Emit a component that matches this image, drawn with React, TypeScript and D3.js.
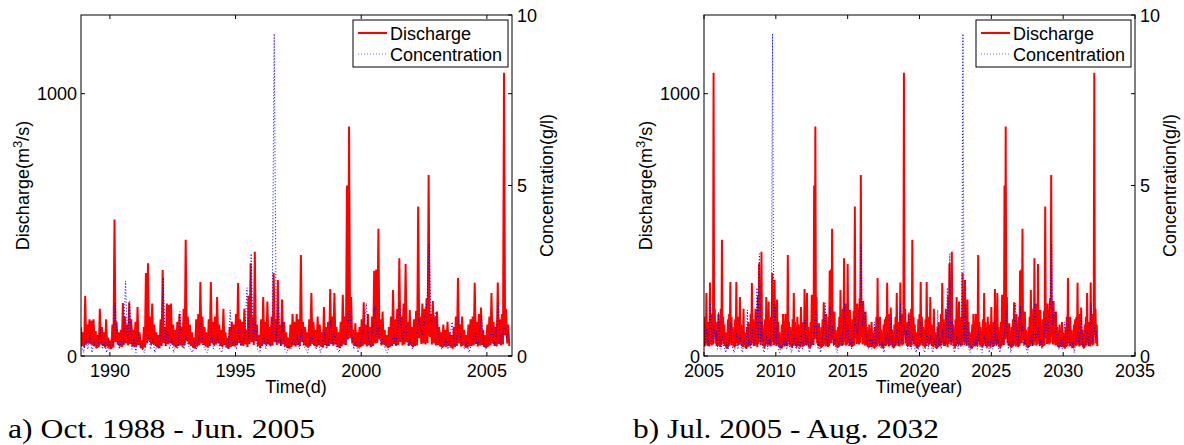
import React from 'react';
import * as d3 from 'd3';

// ---------- DATA ----------
// Left panel (Oct. 1988 - 2005), monthly peak / low discharge (m3/s) and concentration (g/l)
const leftStart = 1988.85;
const leftQHigh = [
  110,90,229,120,140,135,140,95,80,180,
  110,90,140,70,60,120,520,130,90,100,
  202,150,120,205,140,100,130,187,90,60,
  110,316,354,150,200,120,90,80,140,328,
  110,200,195,200,120,100,130,160,110,180,
  443,150,120,90,70,140,160,282,150,110,
  90,140,282,130,150,225,120,100,180,90,
  70,110,130,120,160,278,140,130,180,100,
  230,354,150,397,120,80,140,225,130,208,
  110,150,316,140,290,120,215,130,90,70,
  120,160,130,160,140,385,130,110,90,140,
  240,130,100,150,120,90,187,110,130,255,
  150,240,110,90,130,233,150,650,875,225,
  100,125,90,110,140,205,120,160,110,150,
  325,330,485,140,170,100,80,110,150,252,
  140,180,373,150,200,351,130,175,110,140,
  172,570,150,200,180,220,690,160,210,150,
  170,110,90,120,100,130,90,80,110,150,
  297,120,150,100,80,120,140,150,279,130,
  160,185,100,80,120,150,240,130,110,280,
  140,160,1080,180,120,
];
const leftQLow = [
  38,33,43,48,46,40,36,30,33,43,
  38,32,36,28,26,33,53,43,36,34,
  43,48,40,46,38,33,36,42,30,26,
  33,48,58,43,46,38,32,30,38,50,
  38,46,48,44,36,32,38,40,34,42,
  56,44,38,32,28,36,40,48,42,36,
  32,38,50,40,44,48,38,34,42,32,
  28,34,38,36,42,50,40,38,44,34,
  46,53,42,56,38,30,38,46,40,44,
  36,40,53,42,48,38,44,36,30,28,
  34,40,36,42,38,53,40,36,32,38,
  46,38,34,40,36,32,42,36,38,46,
  40,44,34,30,36,44,42,63,68,48,
  38,36,32,34,38,44,36,40,34,38,
  48,50,63,42,44,36,30,34,38,46,
  38,42,53,40,44,52,38,42,34,38,
  40,68,46,48,44,50,73,44,48,40,
  42,36,32,36,34,38,32,28,34,38,
  48,36,40,34,30,36,38,40,46,36,
  40,42,34,30,36,40,48,38,36,46,
  40,44,78,48,38,
];
const leftConc = [
  0.3,0.1,0.5,0.2,0.6,0.1,0.4,0.2,0.3,0.85,
  0.2,0.4,0.1,0.5,0.2,0.3,1.55,0.6,0.2,0.5,
  0.3,2.2,0.4,1.6,0.2,0.5,0.1,0.7,0.3,0.2,
  0.1,0.4,0.6,0.2,0.5,0.1,0.3,0.2,0.6,2.3,
  0.3,0.8,0.2,0.5,0.1,0.3,0.2,1.3,0.4,0.2,
  0.6,0.3,0.2,0.1,0.4,0.2,0.5,1.0,0.3,0.2,
  0.1,0.3,0.7,0.2,0.4,0.6,0.2,0.1,0.5,0.3,
  0.2,1.35,0.3,0.5,0.2,0.8,0.3,0.4,0.6,2.0,
  0.5,3.0,0.4,1.0,0.2,0.1,0.3,0.6,0.2,0.5,
  0.3,0.7,9.45,0.4,1.5,0.3,1.0,0.2,0.1,0.3,
  0.2,0.5,0.3,0.6,0.2,0.8,0.3,0.2,0.1,0.4,
  0.6,0.3,0.2,0.5,0.1,0.3,0.7,0.2,0.4,1.05,
  0.3,0.6,0.2,0.1,0.4,0.5,0.3,0.8,1.35,0.6,
  0.2,0.4,0.1,0.3,0.6,0.9,1.55,0.5,0.3,0.7,
  1.45,0.6,0.9,0.3,0.5,0.2,0.1,0.3,0.4,0.6,
  0.3,0.8,1.55,0.5,0.7,0.9,0.3,0.5,0.2,0.4,
  0.6,1.1,0.8,0.6,1.2,1.6,3.3,0.9,1.1,1.3,
  0.7,0.4,0.2,0.3,0.5,0.2,0.6,1.0,0.3,0.4,
  1.1,0.5,0.3,0.2,0.4,0.1,0.3,0.5,0.7,0.3,
  0.6,1.2,0.4,0.2,0.3,0.5,0.8,0.3,0.6,1.55,
  0.4,0.6,0.9,0.5,0.75,
];

// Right panel (2005 - Aug. 2032), monthly peak / low discharge and concentration
const rightStart = 2005.0;
const rightQHigh = [
  120,150,240,130,110,280,140,160,1080,180,120,
  130,160,110,180,
  443,150,120,90,70,140,160,282,150,110,
  90,140,282,130,150,225,120,100,180,90,
  70,110,130,120,160,278,140,130,180,100,
  230,354,150,397,120,80,140,225,130,208,
  110,150,316,140,290,120,215,130,90,70,
  120,160,130,160,140,385,130,110,90,140,
  240,130,100,150,120,90,187,110,130,255,
  150,240,110,90,130,233,150,650,875,225,
  100,125,90,110,140,205,120,160,110,150,
  325,330,485,140,170,100,80,110,150,252,
  140,180,373,150,200,351,130,175,110,140,
  172,570,150,200,180,220,690,160,210,150,
  170,110,90,120,100,130,90,80,110,150,
  297,120,150,100,80,120,140,150,279,130,
  160,185,100,80,120,150,240,130,110,280,
  140,160,1080,180,120,
  130,160,110,180,
  443,150,120,90,70,140,160,282,150,110,
  90,140,282,130,150,225,120,100,180,90,
  70,110,130,120,160,278,140,130,180,100,
  230,354,150,397,120,80,140,225,130,208,
  110,150,316,140,290,120,215,130,90,70,
  120,160,130,160,140,385,130,110,90,140,
  240,130,100,150,120,90,187,110,130,255,
  150,240,110,90,130,233,150,650,875,225,
  100,125,90,110,140,205,120,160,110,150,
  325,330,485,140,170,100,80,110,150,252,
  140,180,373,150,200,351,130,175,110,140,
  172,570,150,200,180,220,690,160,210,150,
  170,110,90,120,100,130,90,80,110,150,
  297,120,150,100,80,120,140,150,279,130,
  160,185,100,80,120,150,240,130,110,280,
  140,160,1080,180,120,
];
const rightQLow = [
  36,40,48,38,36,46,40,44,78,48,38,
  38,40,34,42,
  56,44,38,32,28,36,40,48,42,36,
  32,38,50,40,44,48,38,34,42,32,
  28,34,38,36,42,50,40,38,44,34,
  46,53,42,56,38,30,38,46,40,44,
  36,40,53,42,48,38,44,36,30,28,
  34,40,36,42,38,53,40,36,32,38,
  46,38,34,40,36,32,42,36,38,46,
  40,44,34,30,36,44,42,63,68,48,
  38,36,32,34,38,44,36,40,34,38,
  48,50,63,42,44,36,30,34,38,46,
  38,42,53,40,44,52,38,42,34,38,
  40,68,46,48,44,50,73,44,48,40,
  42,36,32,36,34,38,32,28,34,38,
  48,36,40,34,30,36,38,40,46,36,
  40,42,34,30,36,40,48,38,36,46,
  40,44,78,48,38,
  38,40,34,42,
  56,44,38,32,28,36,40,48,42,36,
  32,38,50,40,44,48,38,34,42,32,
  28,34,38,36,42,50,40,38,44,34,
  46,53,42,56,38,30,38,46,40,44,
  36,40,53,42,48,38,44,36,30,28,
  34,40,36,42,38,53,40,36,32,38,
  46,38,34,40,36,32,42,36,38,46,
  40,44,34,30,36,44,42,63,68,48,
  38,36,32,34,38,44,36,40,34,38,
  48,50,63,42,44,36,30,34,38,46,
  38,42,53,40,44,52,38,42,34,38,
  40,68,46,48,44,50,73,44,48,40,
  42,36,32,36,34,38,32,28,34,38,
  48,36,40,34,30,36,38,40,46,36,
  40,42,34,30,36,40,48,38,36,46,
  40,44,78,48,38,
];
const rightConc = [
  0.3,0.5,0.8,0.3,0.6,1.55,0.4,0.6,0.9,0.5,0.75,
  0.2,1.3,0.4,0.2,
  0.6,0.3,0.2,0.1,0.4,0.2,0.5,1.0,0.3,0.2,
  0.1,0.3,0.7,0.2,0.4,0.6,0.2,0.1,0.5,0.3,
  0.2,1.35,0.3,0.5,0.2,0.8,0.3,0.4,0.6,2.0,
  0.5,3.0,0.4,1.0,0.2,0.1,0.3,0.6,0.2,0.5,
  0.3,0.7,9.45,0.4,1.5,0.3,1.0,0.2,0.1,0.3,
  0.2,0.5,0.3,0.6,0.2,0.8,0.3,0.2,0.1,0.4,
  0.6,0.3,0.2,0.5,0.1,0.3,0.7,0.2,0.4,1.05,
  0.3,0.6,0.2,0.1,0.4,0.5,0.3,0.8,1.35,0.6,
  0.2,0.4,0.1,0.3,0.6,0.9,1.55,0.5,0.3,0.7,
  1.45,0.6,0.9,0.3,0.5,0.2,0.1,0.3,0.4,0.6,
  0.3,0.8,1.55,0.5,0.7,0.9,0.3,0.5,0.2,0.4,
  0.6,1.1,0.8,0.6,1.2,1.6,3.3,0.9,1.1,1.3,
  0.7,0.4,0.2,0.3,0.5,0.2,0.6,1.0,0.3,0.4,
  1.1,0.5,0.3,0.2,0.4,0.1,0.3,0.5,0.7,0.3,
  0.6,1.2,0.4,0.2,0.3,0.5,0.8,0.3,0.6,1.55,
  0.4,0.6,0.9,0.5,0.75,
  0.2,1.3,0.4,0.2,
  0.6,0.3,0.2,0.1,0.4,0.2,0.5,1.0,0.3,0.2,
  0.1,0.3,0.7,0.2,0.4,0.6,0.2,0.1,0.5,0.3,
  0.2,1.35,0.3,0.5,0.2,0.8,0.3,0.4,0.6,2.0,
  0.5,3.0,0.4,1.0,0.2,0.1,0.3,0.6,0.2,0.5,
  0.3,0.7,9.45,0.4,1.5,0.3,1.0,0.2,0.1,0.3,
  0.2,0.5,0.3,0.6,0.2,0.8,0.3,0.2,0.1,0.4,
  0.6,0.3,0.2,0.5,0.1,0.3,0.7,0.2,0.4,1.05,
  0.3,0.6,0.2,0.1,0.4,0.5,0.3,0.8,1.35,0.6,
  0.2,0.4,0.1,0.3,0.6,0.9,1.55,0.5,0.3,0.7,
  1.45,0.6,0.9,0.3,0.5,0.2,0.1,0.3,0.4,0.6,
  0.3,0.8,1.55,0.5,0.7,0.9,0.3,0.5,0.2,0.4,
  0.6,1.1,0.8,0.6,1.2,1.6,3.3,0.9,1.1,1.3,
  0.7,0.4,0.2,0.3,0.5,0.2,0.6,1.0,0.3,0.4,
  1.1,0.5,0.3,0.2,0.4,0.1,0.3,0.5,0.7,0.3,
  0.6,1.2,0.4,0.2,0.3,0.5,0.8,0.3,0.6,1.55,
  0.4,0.6,0.9,0.5,0.75,
];

const leftXTicks = [1990, 1995, 2000, 2005];
const rightXTicks = [2005, 2010, 2015, 2020, 2025, 2030, 2035];
const qTicks = [0, 1000];
const cTicks = [0, 5, 10];
const qDomain = [0, 1300];
const cDomain = [0, 10];
const legendLabels = ['Discharge', 'Concentration'];

// ---------- LAYOUT ----------
const W = 1184, H = 445;
const TOP = 15, BOTTOM = 356;
const FONT = '"Liberation Sans", Arial, Helvetica, sans-serif';
const SERIF = '"Liberation Serif", "Times New Roman", serif';
const RED = '#ff0000';
const BLUE = '#0000ff';

type PanelCfg = {
  id: string;
  x0: number; x1: number;
  xDomain: [number, number];
  xTicks: number[];
  start: number;
  qHigh: number[]; qLow: number[]; conc: number[];
  xLabel: string; xLabelX: number;
  caption: string; captionX: number; captionLen: number;
};

const panels: PanelCfg[] = [
  {
    id: 'a', x0: 81, x1: 512, xDomain: [1988.85, 2006.0], xTicks: leftXTicks,
    start: leftStart, qHigh: leftQHigh, qLow: leftQLow, conc: leftConc,
    xLabel: 'Time(d)', xLabelX: 296,
    caption: 'a) Oct. 1988 - Jun. 2005', captionX: 8, captionLen: 307,
  },
  {
    id: 'b', x0: 704, x1: 1135, xDomain: [2005, 2035], xTicks: rightXTicks,
    start: rightStart, qHigh: rightQHigh, qLow: rightQLow, conc: rightConc,
    xLabel: 'Time(year)', xLabelX: 919,
    caption: 'b) Jul. 2005 - Aug. 2032', captionX: 633, captionLen: 306,
  },
];

function Panel({ p }: { p: PanelCfg }) {
  const xs = d3.scaleLinear().domain(p.xDomain).range([p.x0, p.x1]);
  const yq = d3.scaleLinear().domain(qDomain).range([BOTTOM, TOP]);
  const yc = d3.scaleLinear().domain(cDomain).range([BOTTOM, TOP]);

  const qPts: [number, number][] = p.qHigh.flatMap((h, k) => [
    [p.start + k / 12, h] as [number, number],
    [p.start + k / 12 + 1 / 24, p.qLow[k]] as [number, number],
  ]);
  const cPts: [number, number][] = p.conc.map((c, k) => [p.start + k / 12 + 1 / 48, c]);

  const qLine = d3.line<[number, number]>().x(d => xs(d[0])).y(d => yq(d[1]));
  const cLine = d3.line<[number, number]>().x(d => xs(d[0])).y(d => yc(d[1]));

  const tl = 4;
  const lgX = p.x1 - 159, lgY = 20, lgW = 155, lgH = 47;
  const midY = (TOP + BOTTOM) / 2;

  return (
    <g>
      <defs>
        <clipPath id={`clip-${p.id}`}>
          <rect x={p.x0} y={TOP} width={p.x1 - p.x0} height={BOTTOM - TOP} />
        </clipPath>
      </defs>
      <g clipPath={`url(#clip-${p.id})`}>
        <path d={qLine(qPts) || ''} fill="none" stroke={RED} strokeWidth={2} strokeLinejoin="miter" />
        <path d={cLine(cPts) || ''} fill="none" stroke={BLUE} strokeWidth={1} strokeDasharray="1,2" />
      </g>
      {/* box */}
      <rect x={p.x0} y={TOP} width={p.x1 - p.x0} height={BOTTOM - TOP} fill="none" stroke="#000" strokeWidth={1} />
      {/* x ticks */}
      {p.xTicks.map(t => (
        <g key={`xt${t}`}>
          <line x1={xs(t)} x2={xs(t)} y1={BOTTOM} y2={BOTTOM - tl} stroke="#000" />
          <line x1={xs(t)} x2={xs(t)} y1={TOP} y2={TOP + tl} stroke="#000" />
          <text x={xs(t)} y={377} textAnchor="middle" fontFamily={FONT} fontSize={18} fill="#000">{t}</text>
        </g>
      ))}
      {/* left y ticks (discharge) */}
      {qTicks.map(t => (
        <g key={`qt${t}`}>
          <line x1={p.x0} x2={p.x0 + tl} y1={yq(t)} y2={yq(t)} stroke="#000" />
          <line x1={p.x1} x2={p.x1 - tl} y1={yq(t)} y2={yq(t)} stroke="#000" />
          <text x={p.x0 - 4} y={yq(t) + 6.5} textAnchor="end" fontFamily={FONT} fontSize={18} fill="#000">{t}</text>
        </g>
      ))}
      {/* right y ticks (concentration) */}
      {cTicks.map(t => (
        <g key={`ct${t}`}>
          <line x1={p.x1} x2={p.x1 - tl} y1={yc(t)} y2={yc(t)} stroke="#000" />
          <text x={p.x1 + 5} y={yc(t) + 6.5} textAnchor="start" fontFamily={FONT} fontSize={18} fill="#000">{t}</text>
        </g>
      ))}
      {/* axis labels */}
      <text transform={`translate(${p.x0 - 52},${midY}) rotate(-90)`} textAnchor="middle" fontFamily={FONT} fontSize={18} fill="#000">
        Discharge(m<tspan fontSize={13} dy={-7}>3</tspan><tspan dy={7}>/s)</tspan>
      </text>
      <text transform={`translate(${p.x1 + 41},${midY}) rotate(-90)`} textAnchor="middle" fontFamily={FONT} fontSize={18} fill="#000">
        Concentration(g/l)
      </text>
      <text x={p.xLabelX} y={393} textAnchor="middle" fontFamily={FONT} fontSize={18} fill="#000">{p.xLabel}</text>
      {/* legend */}
      <rect x={lgX} y={lgY} width={lgW} height={lgH} fill="#fff" stroke="#000" strokeWidth={1} />
      <line x1={lgX + 5} x2={lgX + 34} y1={lgY + 13} y2={lgY + 13} stroke={RED} strokeWidth={2} />
      <line x1={lgX + 5} x2={lgX + 34} y1={lgY + 34} y2={lgY + 34} stroke={BLUE} strokeWidth={1} strokeDasharray="1,2" strokeOpacity={0.6} />
      <text x={lgX + 37} y={lgY + 19.5} fontFamily={FONT} fontSize={18} fill="#000">{legendLabels[0]}</text>
      <text x={lgX + 37} y={lgY + 40.5} fontFamily={FONT} fontSize={18} fill="#000">{legendLabels[1]}</text>
      {/* caption */}
      <text x={p.captionX} y={438} fontFamily={SERIF} fontSize={28} fill="#000" textLength={p.captionLen} lengthAdjust="spacingAndGlyphs">{p.caption}</text>
    </g>
  );
}

export default function App() {
  return (
    <svg width={W} height={H} viewBox={`0 0 ${W} ${H}`} style={{ position: 'absolute', left: 0, top: 0, background: '#fff' }}>
      <rect x={0} y={0} width={W} height={H} fill="#fff" />
      {panels.map(p => <Panel key={p.id} p={p} />)}
    </svg>
  );
}
